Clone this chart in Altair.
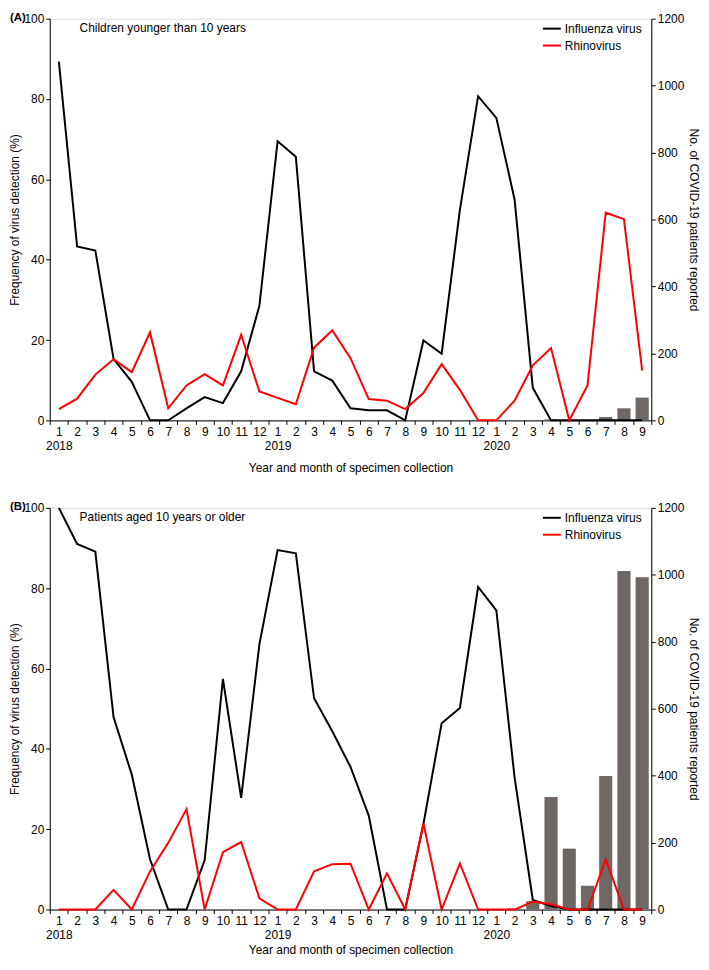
import altair as alt
import pandas as pd

# ---- categories ----
YEARS = [2018, 2019, 2020]
MONTHS_PER_YEAR = [12, 12, 9]
PERIODS = [f"{y}-{m:02d}" for y, n in zip(YEARS, MONTHS_PER_YEAR) for m in range(1, n + 1)]

VIRUSES = ["Influenza virus", "Rhinovirus"]

# ---- Panel A: children younger than 10 years (%) ----
A_FLU = [89.3, 43.3, 42.3, 15.3, 9.6, 0, 0, 3.0, 5.8, 4.3, 12.2, 28.5,
         69.5, 65.6, 12.2, 9.9, 3.0, 2.5, 2.5, 0, 19.9, 16.6, 52.4, 80.7,
         75.3, 55.0, 8.1, 0, 0, 0, 0, 0, 0]
A_RHINO = [2.8, 5.4, 11.4, 15.2, 12.0, 21.9, 3.0, 8.7, 11.5, 8.7, 21.3, 7.2,
           5.6, 4.0, 18.1, 22.4, 15.5, 5.3, 4.9, 2.8, 6.8, 14.0, 7.6, 0,
           0, 4.9, 13.7, 18.0, 0, 8.7, 51.7, 50.1, 12.4]
A_COVID = [0] * 12 + [0] * 12 + [0, 0, 1, 3, 1, 1, 10, 36, 68]

# ---- Panel B: patients aged 10 years or older (%) ----
B_FLU = [100, 91.0, 89.1, 47.9, 33.6, 12.5, 0, 0, 12.3, 57.4, 27.8, 66.0,
         89.5, 88.7, 52.6, 44.4, 35.5, 23.4, 0, 0, 21.3, 46.4, 50.2, 80.3,
         74.5, 32.9, 2.4, 0.9, 0, 0, 0, 0, 0]
B_RHINO = [0, 0, 0, 4.9, 0, 9.5, 16.6, 25.0, 0, 14.3, 16.8, 2.8,
           0, 0, 9.5, 11.3, 11.4, 0, 9.0, 0, 21.4, 0, 11.5, 0,
           0, 0, 2.0, 1.3, 0, 0, 12.5, 0, 0]
B_COVID = [0] * 12 + [0] * 12 + [0, 3, 25, 336, 182, 71, 399, 1011, 993]

LEFT_TICKS = [0, 20, 40, 60, 80, 100]
RIGHT_TICKS = [0, 200, 400, 600, 800, 1000, 1200]

FONT = "Liberation Sans"
BAR_COLOR = "#6e6763"


def lines_df(flu, rhino):
    rows = []
    for v, vals in zip(VIRUSES, [flu, rhino]):
        for p, val in zip(PERIODS, vals):
            rows.append({"period": p, "virus": v, "pct": val})
    return pd.DataFrame(rows)


def bars_df(covid):
    return pd.DataFrame({"period": PERIODS, "count": covid})


LABEL_EXPR = ("!isString(datum.value) ? '' : "
              "(slice(datum.value,5)=='01' ? ['1', slice(datum.value,0,4)] "
              ": '' + toNumber(slice(datum.value,5)))")


def x_enc(title_pad):
    return alt.X(
        "period:O",
        scale=alt.Scale(domain=PERIODS, paddingInner=0, paddingOuter=0),
        axis=alt.Axis(
            title="Year and month of specimen collection",
            labelExpr=LABEL_EXPR, labelAngle=0, tickBand="extent",
            tickSize=4, labelPadding=2, labelFontSize=12, labelLineHeight=14,
            labelOverlap=False, titlePadding=title_pad, titleFontSize=12,
            titleFontWeight="normal", domainColor="black", tickColor="black",
            labelColor="black", titleColor="black",
        ),
    )


def panel(flu, rhino, covid, tag, subtitle, title_pad):
    bars = alt.Chart(bars_df(covid)).mark_bar(
        color=BAR_COLOR, width=alt.RelativeBandSize(0.72)
    ).encode(
        x=x_enc(title_pad),
        y=alt.Y(
            "count:Q",
            scale=alt.Scale(domain=[0, 1200], nice=False),
            axis=alt.Axis(
                orient="right", values=RIGHT_TICKS, format="d", grid=False,
                title="No. of COVID-19 patients reported", tickSize=4,
                labelPadding=2, titlePadding=3, labelFontSize=12,
                titleFontSize=12, titleFontWeight="normal", domainColor="black",
                tickColor="black", labelColor="black", titleColor="black",
            ),
        ),
    )
    line_base = alt.Chart(lines_df(flu, rhino)).mark_line(strokeWidth=2).encode(
        x=x_enc(title_pad),
        y=alt.Y(
            "pct:Q",
            scale=alt.Scale(domain=[0, 100], nice=False),
            axis=alt.Axis(
                orient="left", values=LEFT_TICKS, grid=False,
                title="Frequency of virus detection (%)", tickSize=4,
                labelPadding=2, titlePadding=2, labelFontSize=12,
                titleFontSize=12, titleFontWeight="normal", domainColor="black",
                tickColor="black", labelColor="black", titleColor="black",
            ),
        ),
        color=alt.Color(
            "virus:N",
            scale=alt.Scale(domain=VIRUSES, range=["#000000", "#ff0000"]),
            legend=alt.Legend(
                orient="none", legendX=495, legendY=0, title=None,
                symbolType="stroke", symbolSize=324, symbolStrokeWidth=2,
                labelFontSize=12, labelOffset=3, rowPadding=1, padding=0,
                labelColor="black",
            ),
        ),
    )
    flu_line = line_base.transform_filter(alt.datum.virus == VIRUSES[0])
    rhino_line = line_base.transform_filter(alt.datum.virus == VIRUSES[1])
    lines = alt.layer(flu_line, rhino_line)
    sub = alt.Chart(pd.DataFrame({"t": [subtitle]})).mark_text(
        align="left", baseline="middle", fontSize=12, color="black"
    ).encode(x=alt.value(30), y=alt.value(9), text="t:N")
    tag_txt = alt.Chart(pd.DataFrame({"t": [tag]})).mark_text(
        align="left", baseline="top", fontSize=11.5, fontWeight="bold", color="black"
    ).encode(x=alt.value(-40), y=alt.value(-7), text="t:N")
    return alt.layer(bars, lines, sub, tag_txt).resolve_scale(
        y="independent"
    ).properties(width=605, height=404)


pA = panel(A_FLU, A_RHINO, A_COVID, "(A)", "Children younger than 10 years", 11)
pB = panel(B_FLU, B_RHINO, B_COVID, "(B)", "Patients aged 10 years or older", 4)

chart = (
    alt.vconcat(pA, pB, spacing=26)
    .resolve_scale(color="independent")
    .properties(padding=0)
    .configure_view(stroke=None)
    .configure(font=FONT)
)

chart.save("out.html", embed_options={"renderer": "svg", "actions": False})
